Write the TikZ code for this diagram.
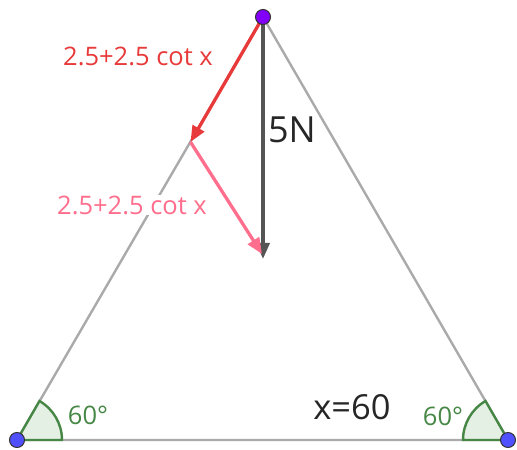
\documentclass[tikz,border=0pt]{standalone}
\usepackage{fontspec}
\setmainfont{Open Sans}
\usetikzlibrary{arrows.meta}
\definecolor{edgegray}{RGB}{170,170,170}
\definecolor{forcered}{RGB}{232,58,58}
\definecolor{forcepink}{RGB}{255,110,140}
\definecolor{forcedark}{RGB}{85,85,85}
\definecolor{anggreen}{RGB}{70,135,70}
\definecolor{angfill}{RGB}{228,240,228}
\definecolor{toppt}{RGB}{130,0,250}
\definecolor{botpt}{RGB}{80,80,255}
\tikzset{
  edge/.style={draw=edgegray,line width=2.4pt},
  force/.style={line width=3pt,-{Triangle[length=16pt,width=13pt]}},
  vertex/.style={circle,draw=black!80,line width=1pt,minimum size=15pt,inner sep=0pt},
  anglesec/.style={fill=angfill,draw=anggreen,line width=2.4pt},
  lbl/.style={inner sep=0pt},
}
\begin{document}
\begin{tikzpicture}[x=1pt,y=1pt]
\useasboundingbox (0,0) rectangle (517,450);
\coordinate (T) at (263,433);
\coordinate (L) at (17,10);
\coordinate (R) at (508,10);
\coordinate (M) at (190.5,308);
\coordinate (P) at (262,196);
\coordinate (D) at (263,191);
% triangle
\draw[edge] (T) -- (L) -- (R) -- cycle;
% angle sectors
\draw[anglesec] (L) -- ++(45,0) arc[start angle=0,end angle=60,radius=45] -- cycle;
\draw[anglesec] (R) -- ++(-45,0) arc[start angle=180,end angle=120,radius=45] -- cycle;
% forces
\draw[force,forcedark,line width=3.5pt] (T) -- (D);
\draw[force,forcered,line width=3.3pt] (T) -- (M);
\draw[force,forcepink,line width=3.3pt] (M) -- (P);
% vertices
\node[vertex,fill=toppt] (vT) at (T) {};
\node[vertex,fill=botpt] (vL) at (L) {};
\node[vertex,fill=botpt] (vR) at (R) {};
% labels
\node[lbl,text=forcered,font=\fontsize{25.5}{28}\selectfont] (lr) at (138,394) {2.5+2.5 cot x};
\node[lbl,text=forcepink,fill=white,inner sep=1pt,font=\fontsize{25.5}{28}\selectfont] (lp) at (132,245) {2.5+2.5 cot x};
\node[lbl,text=black!85,font=\fontsize{36}{40}\selectfont] (l5) at (292,320) {5N};
\node[lbl,text=black!85,font=\fontsize{34.5}{38}\selectfont] (lx) at (352,43) {x=60};
\node[lbl,text=anggreen,font=\fontsize{25.5}{28}\selectfont] (la1) at (88,35) {60°};
\node[lbl,text=anggreen,font=\fontsize{25.5}{28}\selectfont] (la2) at (443,34) {60°};
\end{tikzpicture}
\end{document}
